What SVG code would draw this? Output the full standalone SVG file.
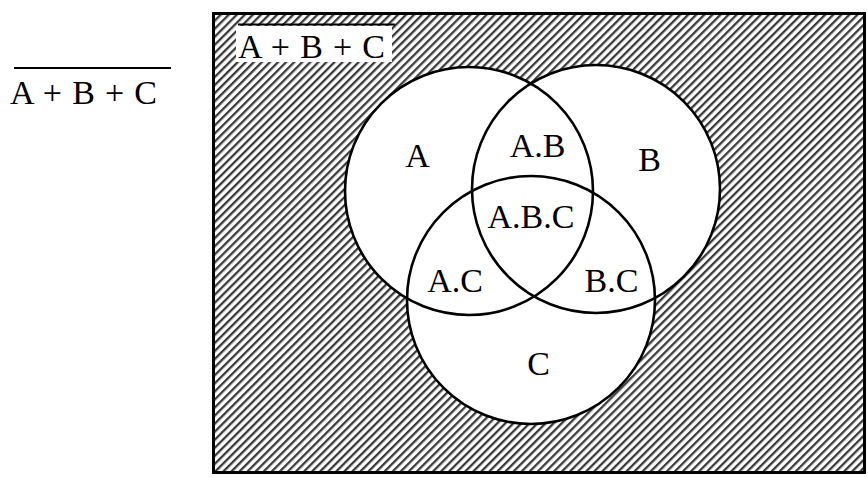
<svg xmlns="http://www.w3.org/2000/svg" width="868" height="478" viewBox="0 0 868 478">
<style>
.t{font-family:"Liberation Serif","Times New Roman",serif;font-size:34px;fill:#000}
.c{fill:none;stroke:#000;stroke-width:2.6}
.ov{stroke:#000;stroke-width:2.2}
</style>
<defs>
<pattern id="hatch" patternUnits="userSpaceOnUse" width="5.7" height="5.7" patternTransform="rotate(45)">
<rect width="5.7" height="5.7" fill="#fff"/>
<rect x="0" y="0" width="2.3" height="5.7" fill="#3a3a3a"/>
</pattern>
</defs>
<g id="title-left">
<line class="ov" x1="14" y1="68" x2="171" y2="68"/>
<text class="t" x="10" y="104" textLength="147" lengthAdjust="spacing">A + B + C</text>
</g>
<g id="universe">
<rect x="213.5" y="13.5" width="651" height="459" fill="url(#hatch)" stroke="#000" stroke-width="3"/>
<rect x="236" y="26" width="156" height="36" fill="#fff"/>
<line class="ov" x1="238" y1="24.5" x2="395" y2="24.5"/>
<text class="t" x="238" y="58" textLength="147" lengthAdjust="spacing">A + B + C</text>
</g>
<g id="fills">
<circle cx="469" cy="191" r="124" fill="#fff"/>
<circle cx="596" cy="189" r="124" fill="#fff"/>
<circle cx="531" cy="300" r="124" fill="#fff"/>
</g>
<g id="circleA"><circle class="c" cx="469" cy="191" r="124"/><text class="t" x="417.5" y="167" text-anchor="middle">A</text></g>
<g id="circleB"><circle class="c" cx="596" cy="189" r="124"/><text class="t" x="649.5" y="171" text-anchor="middle">B</text></g>
<g id="circleC"><circle class="c" cx="531" cy="300" r="124"/><text class="t" x="538.5" y="375" text-anchor="middle">C</text></g>
<g id="regionAB"><text class="t" x="537.5" y="157" text-anchor="middle">A.B</text></g>
<g id="regionABC"><text class="t" x="531" y="228" text-anchor="middle">A.B.C</text></g>
<g id="regionAC"><text class="t" x="455" y="292" text-anchor="middle">A.C</text></g>
<g id="regionBC"><text class="t" x="611.5" y="292" text-anchor="middle">B.C</text></g>
<g id="connectors"></g>
</svg>
